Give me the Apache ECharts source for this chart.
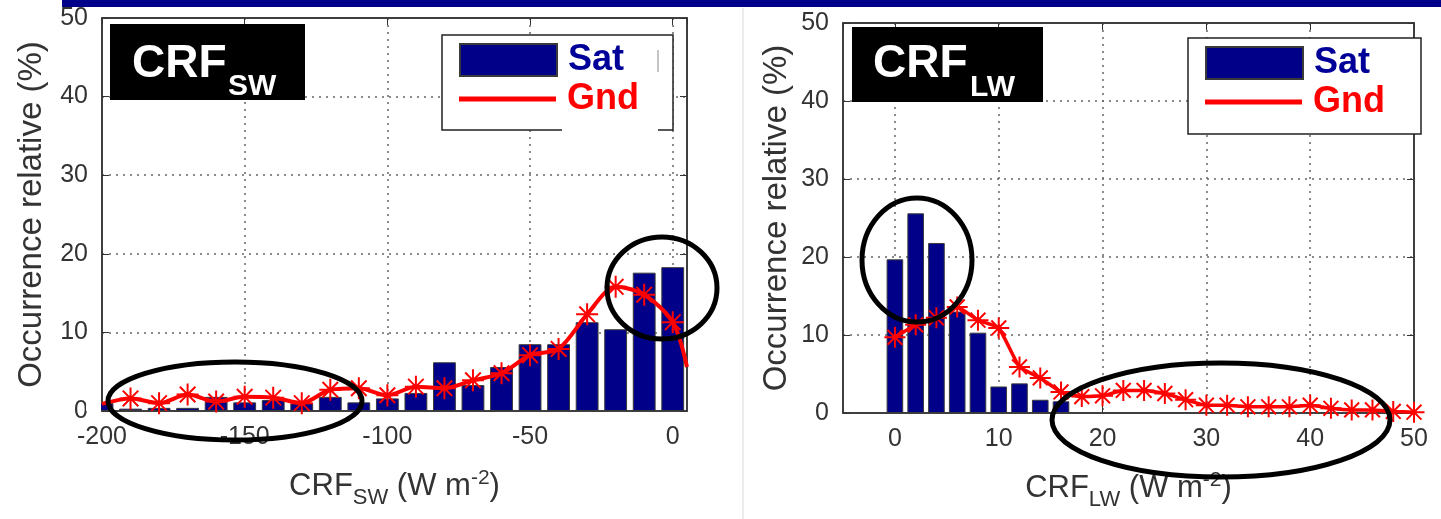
<!DOCTYPE html>
<html><head><meta charset="utf-8">
<script src="https://cdn.jsdelivr.net/npm/echarts@6/dist/echarts.min.js"></script>
<style>html,body{margin:0;padding:0;background:#fff;}#c{width:1441px;height:519px;}</style>
</head><body><div id="c"></div>
<script>
// ---- Data ----
const swBins = [-200,-190,-180,-170,-160,-150,-140,-130,-120,-110,-100,-90,-80,-70,-60,-50,-40,-30,-20,-10,0];
const swSat  = [1.0,0.3,0.4,0.4,1.8,1.1,1.4,1.0,1.8,1.1,1.6,2.3,6.2,3.3,5.6,8.5,8.5,11.3,10.4,17.6,18.3];
const swGndX = [-200,-190,-180,-170,-160,-150,-140,-130,-120,-110,-100,-90,-80,-70,-60,-50,-40,-30,-20,-10,0,5];
const swGnd  = [0.9,1.6,1.0,2.1,1.2,1.8,1.7,1.0,2.7,2.9,2.0,3.1,2.9,3.9,4.8,7.1,7.9,12.3,15.8,14.8,11.3,5.6];
const lwBins = [0,2,4,6,8,10,12,14,16];
const lwSat  = [19.7,25.6,21.8,13.0,10.3,3.4,3.8,1.7,1.5];
const lwGndX = [0,2,4,6,8,10,12,14,16,18,20,22,24,26,28,30,32,34,36,38,40,42,44,46,48,50];
const lwGnd  = [9.7,11.3,12.2,13.6,11.9,10.9,5.9,4.5,2.7,2.1,2.2,2.9,2.9,2.5,1.7,1.0,1.0,0.8,0.8,0.8,1.0,0.6,0.4,0.4,0.2,0.1];
const yTicks = [0,10,20,30,40,50];
const seriesNames = ['Sat','Gnd'];
const yTitle = 'Occurrence relative (%)';

// ---- Styles ----
const FONT = '"Liberation Sans", Arial, Helvetica, sans-serif';
const AX = '#333';
const STAR = 'path://M0,-10L0,10M-10,0L10,0M-7.07,-7.07L7.07,7.07M-7.07,7.07L7.07,-7.07';
const dotted = {show:true, lineStyle:{type:[2,5], color:'#666', width:1.5}};
const lab = {color:AX, fontSize:25, fontFamily:FONT};

function xName(sub){
  return {
    name: 'CRF{s|' + sub + '} (W m{p|-2})',
    nameLocation:'middle', nameGap:52,
    nameTextStyle:{color:AX, fontSize:31, fontFamily:FONT,
      rich:{ s:{fontSize:22, fontFamily:FONT, color:AX, padding:[24,0,0,0]},
             p:{fontSize:21, fontFamily:FONT, color:AX, padding:[0,0,16,0]} }}
  };
}
function mainX(grid, min, max, interval, sub, hideMin, hideMax){
  const o = Object.assign({gridIndex:grid, type:'value', min:min, max:max, position:'bottom',
    axisLine:{show:true, onZero:false, lineStyle:{color:AX, width:1.5}},
    axisTick:{show:true, inside:true, length:7, lineStyle:{color:AX}},
    axisLabel:Object.assign({margin:14, showMinLabel:!hideMin, showMaxLabel:!hideMax}, lab),
    splitLine:dotted}, xName(sub));
  if (interval) o.interval = interval;
  return o;
}
function topX(grid, min, max, interval){
  const o = {gridIndex:grid, type:'value', min:min, max:max, position:'top',
    axisLine:{show:true, onZero:false, lineStyle:{color:AX, width:1.5}},
    axisTick:{show:true, inside:true, length:7, lineStyle:{color:AX}},
    axisLabel:{show:false}, splitLine:{show:false}};
  if (interval) o.interval = interval;
  return o;
}
function mainY(grid, gap){
  return {gridIndex:grid, type:'value', min:yTicks[0], max:yTicks[yTicks.length-1], interval:10, position:'left',
    axisLine:{show:true, onZero:false, lineStyle:{color:AX, width:1.5}},
    axisTick:{show:true, inside:true, length:7, lineStyle:{color:AX}},
    axisLabel:Object.assign({margin:14}, lab),
    splitLine:dotted,
    name:yTitle, nameLocation:'middle', nameGap:gap, nameRotate:90,
    nameTextStyle:{color:AX, fontSize:33, fontFamily:FONT}};
}
function rightY(grid){
  return {gridIndex:grid, type:'value', min:yTicks[0], max:yTicks[yTicks.length-1], interval:10, position:'right',
    axisLine:{show:true, onZero:false, lineStyle:{color:AX, width:1.5}},
    axisTick:{show:true, inside:true, length:7, lineStyle:{color:AX}},
    axisLabel:{show:false}, splitLine:{show:false}};
}
function barSeries(xi, yi, xs, ys){
  return {name:seriesNames[0], type:'bar', xAxisIndex:xi, yAxisIndex:yi, barWidth:'80%', clip:true,
    data: xs.map((x,i)=>[x, ys[i]]),
    itemStyle:{color:'#000088', borderColor:'#3a3a3a', borderWidth:1}, z:2};
}
function lineSeries(xi, yi, xs, ys, smooth, lw, starSize){
  const n = xs.length;
  return {name:seriesNames[1], type:'line', xAxisIndex:xi, yAxisIndex:yi, smooth:smooth, clip:true,
    showAllSymbol:true, symbol:STAR, symbolSize:starSize,
    data: xs.map((x,i)=>{
      const it = {value:[x, ys[i]]};
      if (xs === swGndX && (i === 0 || i === n-1)) it.symbol = 'none';
      return it;
    }),
    lineStyle:{color:'#ff0000', width:lw},
    itemStyle:{color:'#ff0000', borderColor:'#ff0000', borderWidth:2}, z:3};
}
function legendPair(left, topSat, topGnd){
  const ts = (c)=>({fontSize:36, fontWeight:'bold', fontFamily:FONT, color:c, padding:[0,0,0,6]});
  return [
    {left:left, top:topSat, padding:0, itemWidth:97, itemHeight:32, selectedMode:false, z:6,
     data:[{name:seriesNames[0], icon:'rect'}], textStyle:ts('#000099')},
    {left:left, top:topGnd, padding:0, itemWidth:97, itemHeight:5, selectedMode:false, z:6,
     itemStyle:{borderWidth:0},
     data:[{name:seriesNames[1], icon:'rect'}], textStyle:Object.assign(ts('#ff0000'), {padding:[10,0,0,6]})}
  ];
}
function tag(bx, by, bw, bh, tx, ty, sx, sy, sub){
  return [
    {type:'rect', z:5, shape:{x:bx, y:by, width:bw, height:bh}, style:{fill:'#000'}},
    {type:'text', z:6, style:{text:'CRF', x:tx, y:ty, fill:'#fff', font:'bold 46px ' + FONT, verticalAlign:'middle'}},
    {type:'text', z:6, style:{text:sub, x:sx, y:sy, fill:'#fff', font:'bold 30px ' + FONT, verticalAlign:'middle'}}
  ];
}
function ring(cx, cy, rx, ry){
  return {type:'ellipse', z:20, shape:{cx:cx, cy:cy, rx:rx, ry:ry}, style:{fill:null, stroke:'#000', lineWidth:5}};
}

const chart = echarts.init(document.getElementById('c'), null, {renderer:'canvas'});
chart.setOption({
  animation:false,
  backgroundColor:'#fff',
  grid:[
    {left:102, top:18, width:585, height:393, show:true, borderColor:AX, borderWidth:1.5, backgroundColor:'transparent'},
    {left:843, top:23, width:571, height:390, show:true, borderColor:AX, borderWidth:1.5, backgroundColor:'transparent'}
  ],
  xAxis:[
    mainX(0, -200, 5, 50, 'SW', false, true),
    topX(0, -200, 5, 50),
    mainX(1, -5, 50, null, 'LW', true, false),
    topX(1, -5, 50, null)
  ],
  yAxis:[ mainY(0, 54), rightY(0), mainY(1, 50), rightY(1) ],
  legend: legendPair(459, 42, 81).concat(legendPair(1205, 45, 84)),
  series:[
    barSeries(0, 0, swBins, swSat),
    lineSeries(0, 0, swGndX, swGnd, 0.3, 4, 22),
    barSeries(2, 2, lwBins, lwSat),
    lineSeries(2, 2, lwGndX, lwGnd, 0.15, 3.5, 21)
  ],
  graphic:[
    // mask for the part of the first bin that falls left of the axis box
    {type:'rect', z:2.5, shape:{x:86, y:392, width:15, height:19}, style:{fill:'#fff'}},
    {type:'rect', z:30, shape:{x:62, y:0, width:1379, height:7}, style:{fill:'#00008b'}},
    {type:'line', z:1, shape:{x1:743, y1:8, x2:743, y2:519}, style:{stroke:'#d9d9d9', lineWidth:1}},
    {type:'rect', z:4, shape:{x:442, y:35, width:231, height:95}, style:{fill:'#fff', stroke:'#222', lineWidth:1.5}},
    {type:'rect', z:4.5, shape:{x:562, y:126, width:96, height:6}, style:{fill:'#fff'}},
    {type:'line', z:4.5, shape:{x1:658, y1:50, x2:658, y2:72}, style:{stroke:'#888', lineWidth:1}},
    {type:'rect', z:4, shape:{x:1188, y:38, width:233, height:96}, style:{fill:'#fff', stroke:'#222', lineWidth:1.5}}
  ].concat(
    tag(110, 24, 195, 76, 132, 64, 228, 87, 'SW'),
    tag(852, 27, 191, 75, 873, 64, 970, 88, 'LW'),
    [ring(235, 401, 127, 39), ring(662, 288, 55, 51), ring(917, 260, 55, 62), ring(1221, 420, 169, 57)]
  )
});
</script></body></html>
